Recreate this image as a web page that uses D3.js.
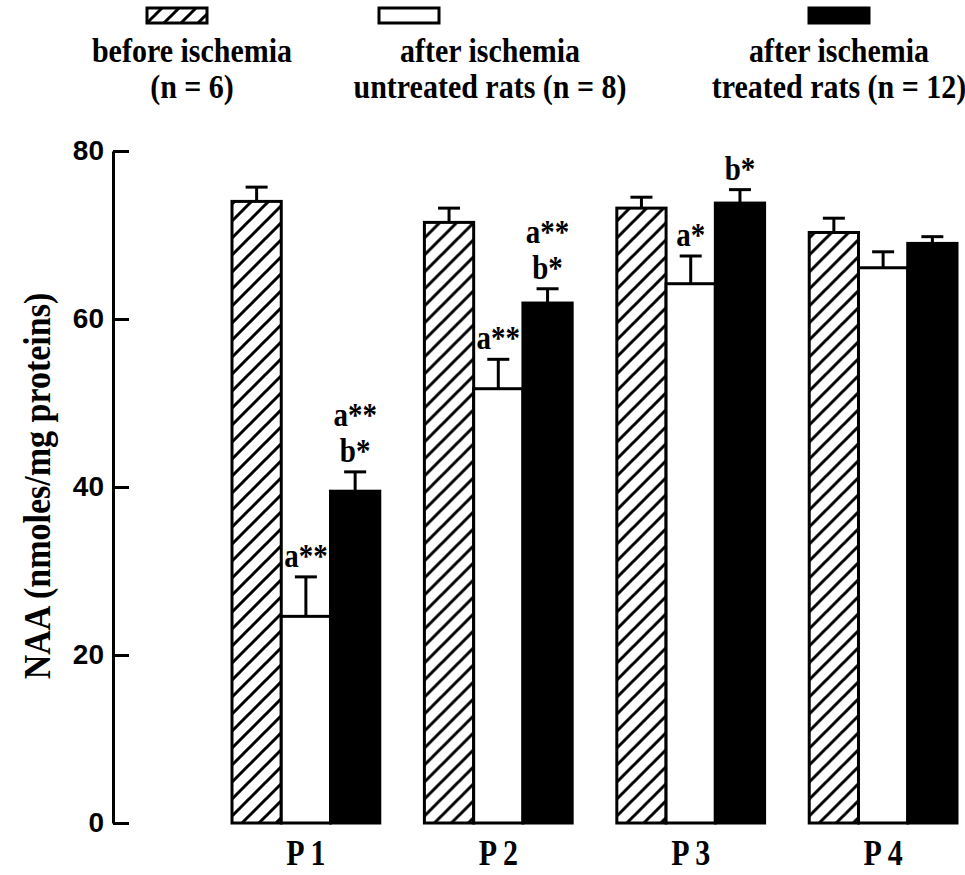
<!DOCTYPE html>
<html lang="en">
<head>
<meta charset="UTF-8">
<title>NAA</title>
<script src="https://cdn.jsdelivr.net/npm/d3@7"></script>
<style>
    body { margin: 0; background: #fff; }
    svg { display: block; }
    .serif { font-family: "Liberation Serif", "Times New Roman", serif; font-weight: bold; }
    .y-axis text { font-family: "Liberation Sans", Arial, sans-serif; font-weight: bold; font-size: 28px; }
</style>
</head>
<body>
<div id="chart"></div>
<script>
    const categories = ["P 1", "P 2", "P 3", "P 4"];
    const seriesKeys = ["before", "untreated", "treated"];
    const legendLabels = [
        ["before ischemia", "(n = 6)"],
        ["after ischemia", "untreated rats (n = 8)"],
        ["after ischemia", "treated rats (n = 12)"]
    ];
    const before = [74.0, 71.5, 73.2, 70.3];
    const beforeErr = [1.7, 1.7, 1.3, 1.7];
    const untreated = [24.6, 51.7, 64.2, 66.1];
    const untreatedErr = [4.7, 3.5, 3.3, 1.9];
    const treated = [39.5, 61.9, 73.8, 69.0];
    const treatedErr = [2.3, 1.7, 1.6, 0.8];
    const untreatedMarks = [["a**"], ["a**"], ["a*"], []];
    const treatedMarks = [["a**", "b*"], ["a**", "b*"], ["b*"], []];
    const yTicks = [0, 20, 40, 60, 80];

    const width = 965, height = 875;
    const stretch = 1.18; // the serif text in the figure is tall and narrow
    const fills = { before: "url(#hatch)", untreated: "#fff", treated: "#000" };

    const svg = d3.select("#chart").append("svg")
        .attr("width", width)
        .attr("height", height);

    // diagonal hatch
    svg.append("defs").append("pattern")
        .attr("id", "hatch")
        .attr("patternUnits", "userSpaceOnUse")
        .attr("width", 17)
        .attr("height", 17)
        .append("path")
        .attr("d", "M-4,4 l8,-8 M0,17 l17,-17 M13,21 l8,-8")
        .attr("stroke", "#000")
        .attr("stroke-width", 3);

    const y = d3.scaleLinear().domain([0, 80]).range([823, 151]);
    const x0 = d3.scaleBand().domain(categories).range([232, 957]).paddingInner(0.232);
    const x1 = d3.scaleBand().domain(seriesKeys).range([0, x0.bandwidth()]);

    const rows = categories.map((c, i) => ({
        cat: c,
        bars: [
            { key: "before", v: before[i], e: beforeErr[i], marks: [] },
            { key: "untreated", v: untreated[i], e: untreatedErr[i], marks: untreatedMarks[i] },
            { key: "treated", v: treated[i], e: treatedErr[i], marks: treatedMarks[i] }
        ]
    }));

    // y axis, ticks pointing inward
    svg.append("g")
        .attr("class", "y-axis")
        .attr("transform", "translate(113,0)")
        .call(d3.axisLeft(y).tickValues(yTicks).tickSizeInner(-16).tickSizeOuter(0).tickPadding(9))
        .call(g => g.selectAll("path, line").attr("stroke", "#000").attr("stroke-width", 3))
        .call(g => g.selectAll("text").attr("fill", "#000"));

    const groups = svg.selectAll("g.grp")
        .data(rows)
        .join("g")
        .attr("class", "grp")
        .attr("transform", d => `translate(${x0(d.cat)},0)`);

    const bar = groups.selectAll("g.bar")
        .data(d => d.bars)
        .join("g")
        .attr("class", "bar");

    // error bars (upper only)
    bar.append("line")
        .attr("x1", d => x1(d.key) + x1.bandwidth() / 2)
        .attr("x2", d => x1(d.key) + x1.bandwidth() / 2)
        .attr("y1", d => y(d.v))
        .attr("y2", d => y(d.v + d.e))
        .attr("stroke", "#000").attr("stroke-width", 3);
    bar.append("line")
        .attr("x1", d => x1(d.key) + x1.bandwidth() / 2 - 11)
        .attr("x2", d => x1(d.key) + x1.bandwidth() / 2 + 11)
        .attr("y1", d => y(d.v + d.e))
        .attr("y2", d => y(d.v + d.e))
        .attr("stroke", "#000").attr("stroke-width", 3);

    bar.append("rect")
        .attr("x", d => x1(d.key))
        .attr("y", d => y(d.v))
        .attr("width", x1.bandwidth())
        .attr("height", d => y(0) - y(d.v))
        .attr("fill", d => fills[d.key])
        .attr("stroke", "#000")
        .attr("stroke-width", 3);

    // significance marks
    bar.each(function (d) {
        const n = d.marks.length;
        const cx = x1(d.key) + x1.bandwidth() / 2;
        d3.select(this).selectAll("text.mark")
            .data(d.marks)
            .join("text")
            .attr("class", "mark serif")
            .attr("transform", (m, i) => `translate(${cx},${y(d.v + d.e) - 10 - (n - 1 - i) * 36}) scale(1,${stretch})`)
            .attr("text-anchor", "middle")
            .attr("font-size", 29)
            .text(m => m);
    });

    // category labels
    svg.selectAll("text.cat")
        .data(categories)
        .join("text")
        .attr("class", "cat serif")
        .attr("transform", d => `translate(${x0(d) + x0.bandwidth() / 2},865) scale(1,${stretch})`)
        .attr("text-anchor", "middle")
        .attr("font-size", 30)
        .text(d => d);

    // y title
    svg.append("text")
        .attr("class", "serif")
        .attr("transform", "translate(50,486) rotate(-90) scale(1,1.1)")
        .attr("text-anchor", "middle")
        .attr("font-size", 34)
        .text("NAA (nmoles/mg proteins)");

    // legend
    const legendBox = [177, 409, 839];
    const legendText = [192, 490, 839];
    const leg = svg.selectAll("g.leg")
        .data(seriesKeys)
        .join("g")
        .attr("class", "leg");
    leg.append("rect")
        .attr("x", (d, i) => legendBox[i] - 30)
        .attr("y", 8)
        .attr("width", 60)
        .attr("height", 15)
        .attr("fill", d => fills[d])
        .attr("stroke", "#000")
        .attr("stroke-width", 3);
    leg.each(function (d, i) {
        d3.select(this).selectAll("text")
            .data(legendLabels[i])
            .join("text")
            .attr("class", "serif")
            .attr("transform", (t, j) => `translate(${legendText[i]},${62 + j * 36}) scale(1,1.1)`)
            .attr("text-anchor", "middle")
            .attr("font-size", 30)
            .text(t => t);
    });
</script>
</body>
</html>
